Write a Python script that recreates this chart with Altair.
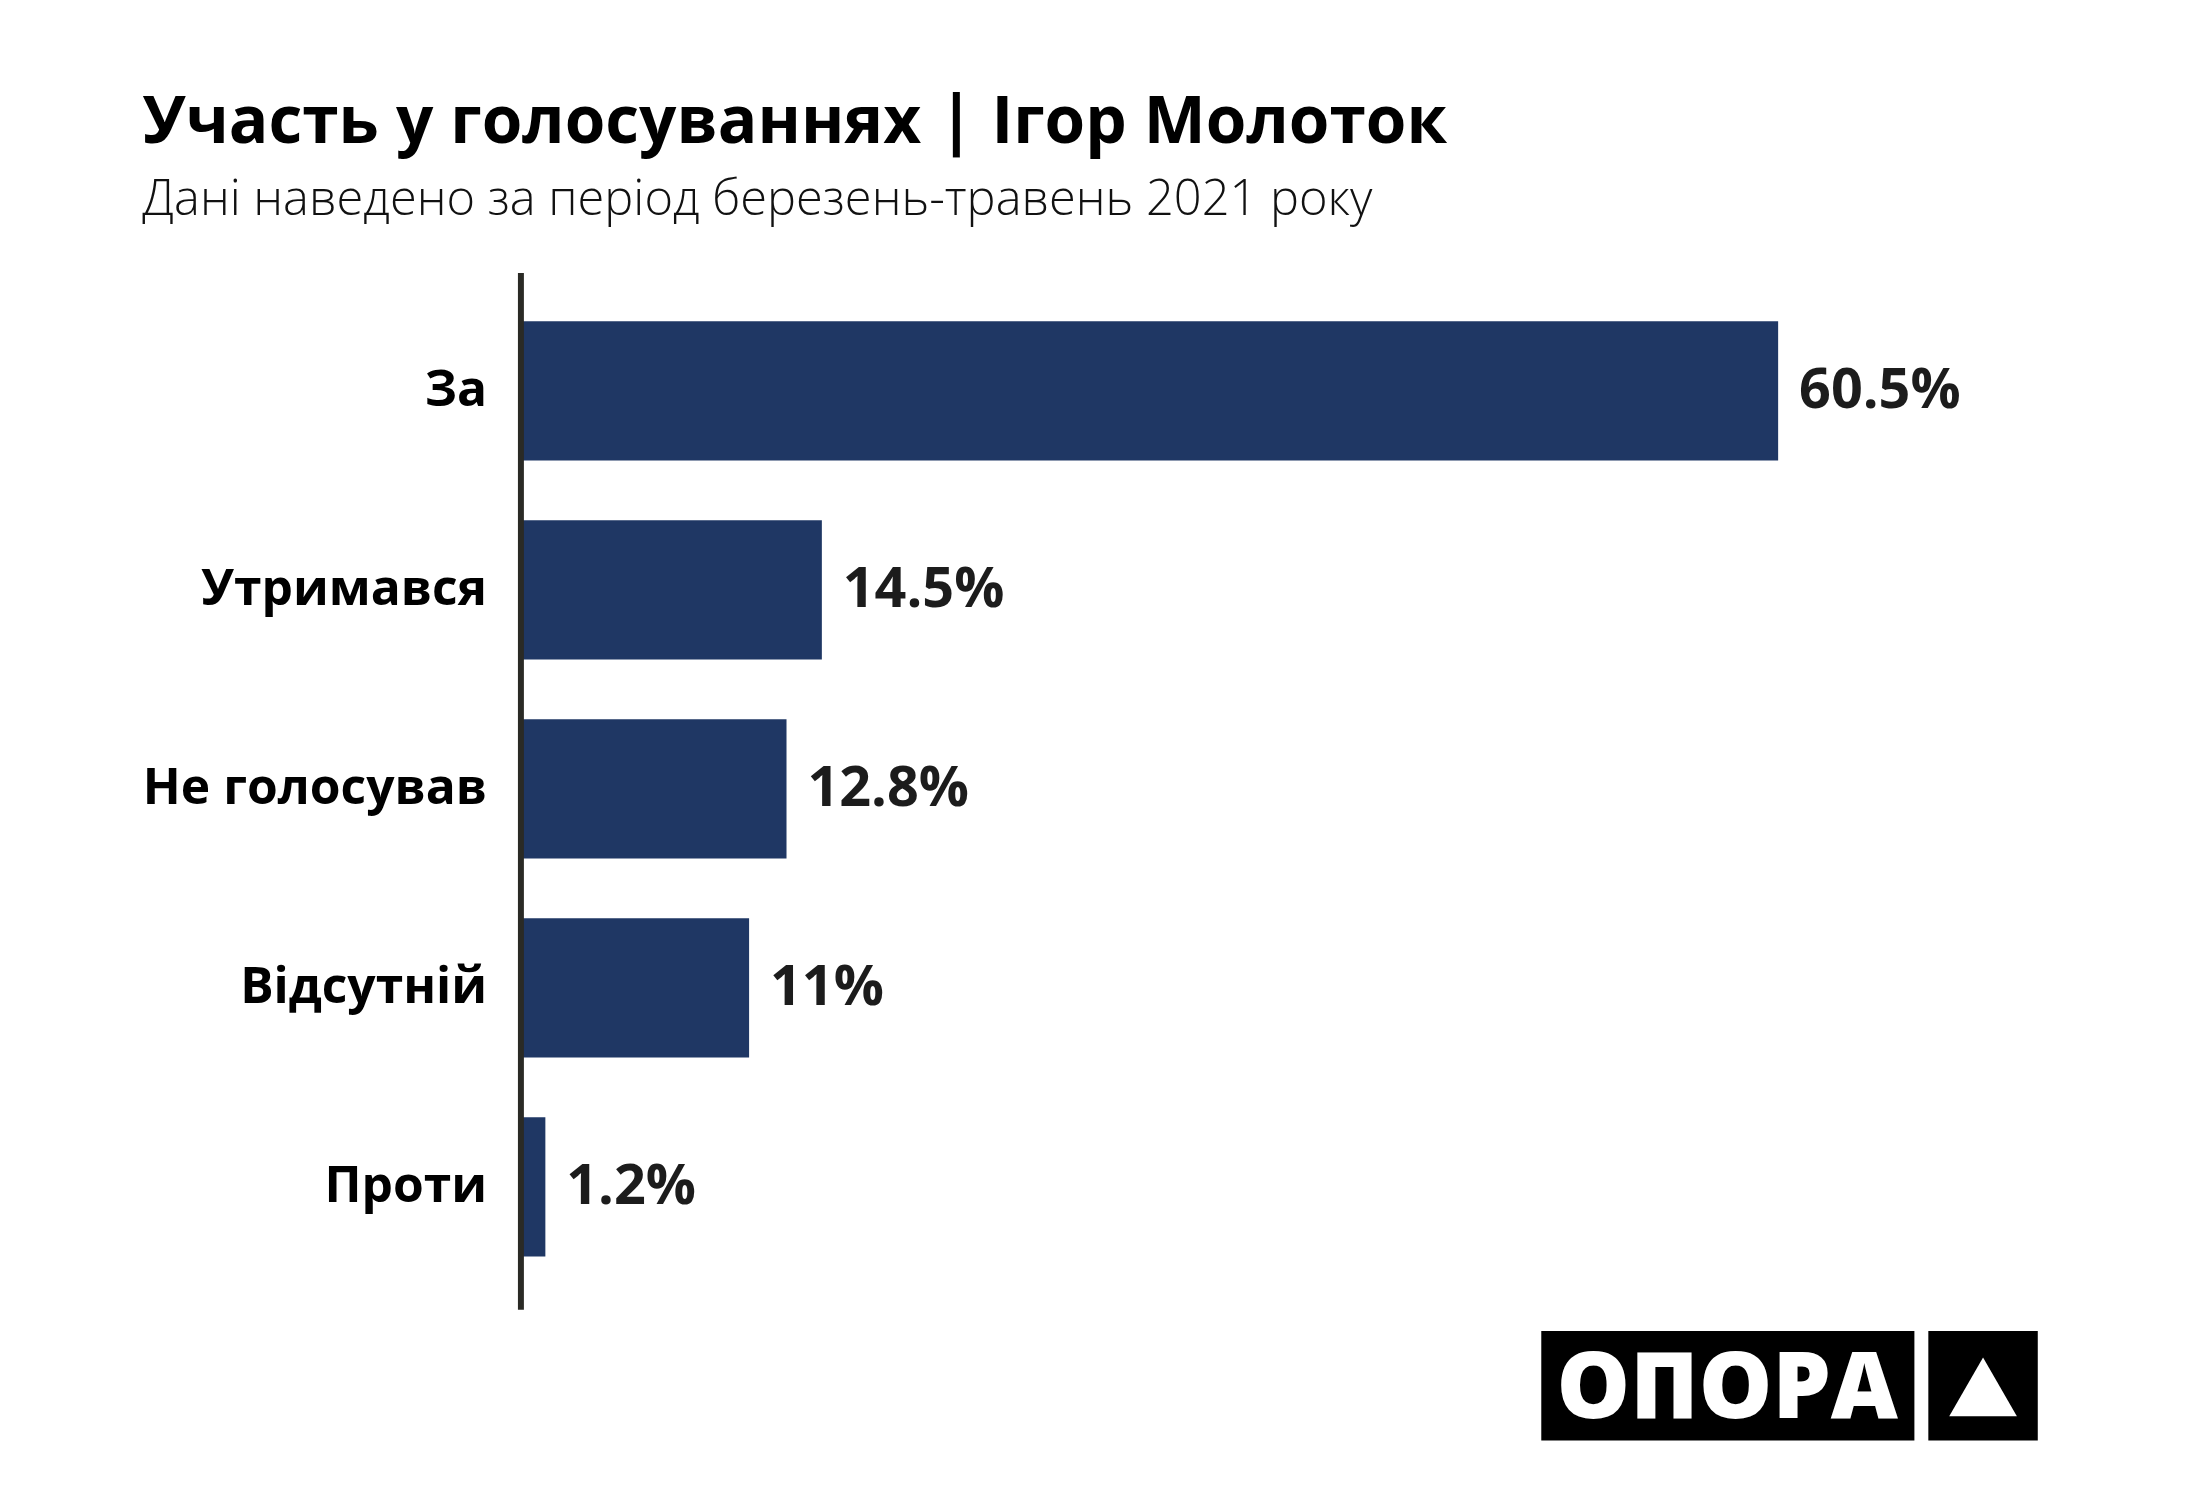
import altair as alt
import pandas as pd

categories = ["За", "Утримався", "Не голосував", "Відсутній", "Проти"]
values = [60.5, 14.5, 12.8, 11, 1.2]
value_labels = ["60.5%", "14.5%", "12.8%", "11%", "1.2%"]

title_text = "Участь у голосуваннях | Ігор Молоток"
subtitle_text = "Дані наведено за період березень-травень 2021 року"
logo_text = ["ОПОРА"]

FONT = "Open Sans"
BAR_COLOR = "#1f3764"

df = pd.DataFrame({"cat": categories, "val": values, "lab": value_labels})
logo_df = pd.DataFrame({"logo": logo_text})

y_enc = alt.Y("cat:N", sort=categories, title=None,
              scale=alt.Scale(paddingInner=0.3, paddingOuter=0.255, align=0.48),
              axis=alt.Axis(ticks=False, domainColor="#2a2a25", domainWidth=6,
                            labelFont=FONT, labelFontSize=50, labelFontWeight="bold",
                            labelColor="#000000", labelPadding=34, labelLimit=0,
                            zindex=1))
x_enc = alt.X("val:Q", scale=alt.Scale(domain=[0, 72.75], nice=False, zero=True), axis=None)

bars = alt.Chart(df).mark_bar(color=BAR_COLOR).encode(x=x_enc, y=y_enc)

labels = alt.Chart(df).mark_text(align="left", baseline="middle", dx=21,
                                 font=FONT, fontSize=56, fontWeight="bold",
                                 color="#1c1c1c").encode(
    x=x_enc, y=alt.Y("cat:N", sort=categories), text="lab:N")

logo_box1 = alt.Chart(logo_df).mark_rect(color="#000000").encode(
    x=alt.value(1026), x2=alt.value(1401), y=alt.value(1064), y2=alt.value(1174))
logo_box2 = alt.Chart(logo_df).mark_rect(color="#000000").encode(
    x=alt.value(1415), x2=alt.value(1525), y=alt.value(1064), y2=alt.value(1174))
logo_word = alt.Chart(logo_df).mark_text(align="center", baseline="alphabetic",
                                         font=FONT, fontSize=93, fontWeight=800,
                                         color="#ffffff").encode(
    x=alt.value(1213), y=alt.value(1151), text="logo:N")
logo_tri = alt.Chart(logo_df).mark_point(shape="triangle-up", filled=True, opacity=1,
                                         color="#ffffff", size=4624).encode(
    x=alt.value(1470), y=alt.value(1120))

chart = alt.layer(bars, labels, logo_box1, logo_box2, logo_word, logo_tri).properties(
    width=1520, height=1042,
    autosize="none",
    padding={"left": 515, "top": 262, "right": 160, "bottom": 196},
    background="#ffffff",
    title=alt.TitleParams(
        text=title_text, subtitle=subtitle_text,
        anchor="start", frame="bounds", offset=47,
        font=FONT, fontSize=66, fontWeight="bold", color="#000000",
        subtitleFont=FONT, subtitleFontSize=49, subtitleFontWeight=300,
        subtitleColor="#111111", subtitlePadding=19,
    ),
).configure_view(stroke=None)

chart.save("out.html", embed_options={"renderer": "svg", "actions": False})
